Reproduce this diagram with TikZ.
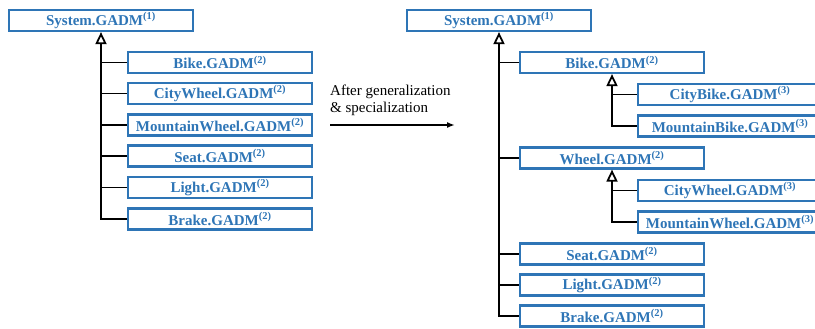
\documentclass[tikz,border=0pt]{standalone}
\usepackage{fontspec}
\setmainfont{Liberation Serif}
\usepackage{xcolor}
\usepackage{tikz}
\usetikzlibrary{positioning,arrows.meta}
\definecolor{gadmblue}{RGB}{46,117,182}

\begin{document}
\begin{tikzpicture}[x=1pt,y=-1pt,
    gadm/.style={draw=gadmblue,line width=2.2pt,text=gadmblue,
        font=\fontsize{15}{17}\selectfont\bfseries,
        minimum width=184pt,minimum height=21pt,inner sep=0pt},
    link/.style={line width=1.8pt},
    isa/.style={link,-{Triangle[open,width=11pt,length=12pt]}}]
    \useasboundingbox (0,0) rectangle (815,329);

    % before
    \node [gadm] (S1) at (101,20.5) {System.GADM\textsuperscript{(1)}};
    \node [gadm] (B1) at (220,62.5) {Bike.GADM\textsuperscript{(2)}};
    \node [gadm] (B2) at (220,93.5) {CityWheel.GADM\textsuperscript{(2)}};
    \node [gadm] (B3) at (220,125) {MountainWheel.GADM\textsuperscript{(2)}};
    \node [gadm] (B4) at (220,156) {Seat.GADM\textsuperscript{(2)}};
    \node [gadm] (B5) at (220,187.5) {Light.GADM\textsuperscript{(2)}};
    \node [gadm] (B6) at (220,219) {Brake.GADM\textsuperscript{(2)}};
    \draw [isa] (B6.west) -| (S1.south);
    \foreach \n in {B1,B2,B3,B4,B5}
        \draw [link] (\n.west) -- (\n.west -| S1.south);

    % transformation
    \node [anchor=north west,align=left,inner sep=0pt,
        font=\fontsize{15}{17}\selectfont] (note) at (330,84.5)
        {After generalization\\\& specialization};
    \coordinate (from) at (330,125);
    \coordinate (to) at (455,125);
    \draw [line width=1.6pt,-{Latex[length=8pt,width=6pt]}] (from) -- (to);

    % after
    \node [gadm] (S2) at (499,20.5) {System.GADM\textsuperscript{(1)}};
    \node [gadm] (C1) at (612,62.5) {Bike.GADM\textsuperscript{(2)}};
    \node [gadm] (D1) at (730,94.5) {CityBike.GADM\textsuperscript{(3)}};
    \node [gadm] (D2) at (730,126) {MountainBike.GADM\textsuperscript{(3)}};
    \node [gadm] (C2) at (612,158) {Wheel.GADM\textsuperscript{(2)}};
    \node [gadm] (D3) at (730,190.5) {CityWheel.GADM\textsuperscript{(3)}};
    \node [gadm] (D4) at (730,222) {MountainWheel.GADM\textsuperscript{(3)}};
    \node [gadm] (C3) at (612,254) {Seat.GADM\textsuperscript{(2)}};
    \node [gadm] (C4) at (612,285) {Light.GADM\textsuperscript{(2)}};
    \node [gadm] (C5) at (612,316) {Brake.GADM\textsuperscript{(2)}};
    \draw [isa] (C5.west) -| (S2.south);
    \foreach \n in {C1,C2,C3,C4}
        \draw [link] (\n.west) -- (\n.west -| S2.south);
    \draw [isa] (D2.west) -| (C1.south);
    \draw [link] (D1.west) -- (D1.west -| C1.south);
    \draw [isa] (D4.west) -| (C2.south);
    \draw [link] (D3.west) -- (D3.west -| C2.south);
\end{tikzpicture}
\end{document}
